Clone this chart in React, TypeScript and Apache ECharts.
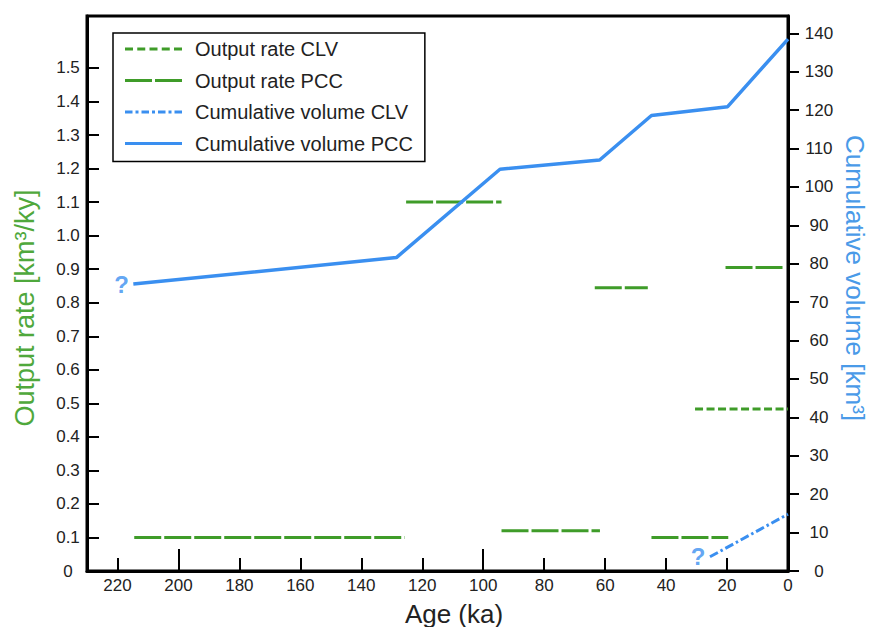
import React, { useEffect, useRef } from 'react';
import * as echarts from 'echarts';

// ---- data ----
const cumPccAge = [214.8, 128.5, 94.5, 61.8, 44.8, 19.8, 0];
const cumPccVol = [74.7, 81.6, 104.6, 107.0, 118.6, 120.9, 138.5];
const cumClvAge = [25.6, 0];
const cumClvVol = [3.7, 14.8];
const ratePccStart = [214.5, 125.3, 94.0, 63.4, 44.8, 20.5];
const ratePccEnd = [125.8, 94.0, 61.7, 46.0, 19.6, 1.7];
const ratePccValue = [0.1, 1.1, 0.12, 0.845, 0.1, 0.905];
const rateClvStart = [30.5];
const rateClvEnd = [0];
const rateClvValue = [0.483];

// ---- tick labels ----
const xTicks = [0, 20, 40, 60, 80, 100, 120, 140, 160, 180, 200, 220];
const xMajorTicks = [0, 100, 200];
const leftTicks = [0, 0.1, 0.2, 0.3, 0.4, 0.5, 0.6, 0.7, 0.8, 0.9, 1.0, 1.1, 1.2, 1.3, 1.4, 1.5];
const rightTicks = [0, 10, 20, 30, 40, 50, 60, 70, 80, 90, 100, 110, 120, 130, 140];
const legendNames = ['Output rate CLV', 'Output rate PCC', 'Cumulative volume CLV', 'Cumulative volume PCC'];

const FONT = '"Liberation Sans", Arial, Helvetica, sans-serif';
const GREEN = '#3f9c29';
const GREEN_T = '#4fa83c';
const BLUE = '#3a8ff0';
const BLUE_T = '#4a9ae8';
const INK = '#222222';

const ICONS: Record<string, string> = {
  'Output rate CLV':
    'path://M0,0H8V3H0Z M12.25,0H20.25V3H12.25Z M24.5,0H32.5V3H24.5Z M36.75,0H44.75V3H36.75Z M49,0H57V3H49Z',
  'Output rate PCC': 'path://M0,0H27V3H0Z M30,0H57V3H30Z',
  'Cumulative volume CLV':
    'path://M0,0H7.5V3H0Z M10.5,0H13.5V3H10.5Z M16.5,0H24V3H16.5Z M27,0H30V3H27Z M33,0H40.5V3H33Z M43.5,0H46.5V3H43.5Z M49.5,0H57V3H49.5Z',
  'Cumulative volume PCC': 'path://M0,0H57V3H0Z',
};

export default function App() {
  const ref = useRef<HTMLDivElement>(null);
  useEffect(() => {
    if (!ref.current) return;
    const chart = echarts.init(ref.current, undefined, { renderer: 'svg' });

    const pccSeries = ratePccStart.map((s, i) => ({
      type: 'line',
      name: 'Output rate PCC',
      xAxisIndex: 0,
      yAxisIndex: 0,
      symbol: 'none',
      silent: true,
      lineStyle: { color: GREEN, width: 3, type: [27, 3], cap: 'butt' },
      itemStyle: { color: GREEN },
      data: [[s, ratePccValue[i]], [ratePccEnd[i], ratePccValue[i]]],
      z: 2,
    }));
    const clvSeries = rateClvStart.map((s, i) => ({
      type: 'line',
      name: 'Output rate CLV',
      xAxisIndex: 0,
      yAxisIndex: 0,
      symbol: 'none',
      silent: true,
      lineStyle: { color: GREEN, width: 3, type: [8, 3.5], cap: 'butt' },
      itemStyle: { color: GREEN },
      data: [[s, rateClvValue[i]], [rateClvEnd[i], rateClvValue[i]]],
      z: 2,
    }));

    const option: any = {
      animation: false,
      textStyle: { fontFamily: FONT },
      grid: {
        left: 87, right: 81, top: 16, bottom: 56,
        show: true, borderColor: '#000', borderWidth: 3,
        backgroundColor: 'transparent',
        containLabel: false,
        outerBoundsMode: 'none',
      },
      legend: {
        data: legendNames.map((n) => ({ name: n, icon: ICONS[n] })),
        orient: 'vertical',
        left: 113,
        top: 33,
        itemWidth: 57,
        itemHeight: 3,
        itemGap: 11.5,
        symbolKeepAspect: false,
        padding: [6, 12, 8, 12],
        borderColor: '#000',
        borderWidth: 1.5,
        backgroundColor: '#fff',
        selectedMode: false,
        itemStyle: { borderWidth: 0 },
        textStyle: { fontSize: 20, color: INK, fontFamily: FONT, padding: [0, 0, 0, 8] },
      },
      xAxis: [
        {
          type: 'value', min: 0, max: 230, inverse: true, position: 'bottom',
          axisLine: { show: true, onZero: false, lineStyle: { color: '#000', width: 3 } },
          axisTick: {
            show: true, inside: true, length: 13, customValues: xTicks,
            lineStyle: { color: '#000', width: 2 },
          },
          axisLabel: {
            fontSize: 17, color: INK, margin: 6, fontFamily: FONT, customValues: xTicks,
            formatter: (v: number) => String(v),
          },
          splitLine: { show: false },
        },
        {
          type: 'value', min: 0, max: 230, inverse: true, position: 'bottom',
          axisLine: { show: false },
          axisTick: {
            show: true, inside: true, length: 22, customValues: xMajorTicks,
            lineStyle: { color: '#000', width: 2 },
          },
          axisLabel: { show: false },
          splitLine: { show: false },
        },
      ],
      yAxis: [
        {
          type: 'value', min: 0, max: 1.655, position: 'left',
          axisLine: { show: true, onZero: false, lineStyle: { color: '#000', width: 3 } },
          axisTick: {
            show: true, inside: true, length: 12, customValues: leftTicks,
            lineStyle: { color: '#000', width: 2 },
          },
          axisLabel: {
            fontSize: 17, color: INK, margin: 19, align: 'center', fontFamily: FONT,
            customValues: leftTicks,
            formatter: (v: number) => (v === 0 ? '0' : v.toFixed(1)),
          },
          splitLine: { show: false },
        },
        {
          type: 'value', min: 0, max: 144.5, position: 'right',
          axisLine: { show: true, onZero: false, lineStyle: { color: '#000', width: 3 } },
          axisTick: {
            show: true, inside: false, length: 11, customValues: rightTicks,
            lineStyle: { color: '#000', width: 2 },
          },
          axisLabel: {
            fontSize: 17, color: INK, margin: 31, align: 'center', fontFamily: FONT,
            customValues: rightTicks,
            formatter: (v: number) => String(v),
          },
          splitLine: { show: false },
        },
      ],
      series: [
        ...clvSeries,
        ...pccSeries,
        {
          type: 'line',
          name: 'Cumulative volume CLV',
          xAxisIndex: 0,
          yAxisIndex: 1,
          symbol: 'none',
          silent: true,
          lineStyle: { color: BLUE, width: 3, type: [9, 3, 2.5, 3], cap: 'butt' },
          itemStyle: { color: BLUE },
          data: cumClvAge.map((a, i) => [a, cumClvVol[i]]),
          z: 3,
        },
        {
          type: 'line',
          name: 'Cumulative volume PCC',
          xAxisIndex: 0,
          yAxisIndex: 1,
          symbol: 'none',
          silent: true,
          lineStyle: { color: BLUE, width: 3.5 },
          itemStyle: { color: BLUE },
          data: cumPccAge.map((a, i) => [a, cumPccVol[i]]),
          z: 4,
        },
        {
          type: 'scatter',
          name: 'unknown start',
          xAxisIndex: 0,
          yAxisIndex: 1,
          symbolSize: 1,
          silent: true,
          itemStyle: { color: 'transparent' },
          label: {
            show: true, formatter: '?', position: 'left', distance: 4,
            fontSize: 24, fontWeight: 'bold', color: BLUE, fontFamily: FONT,
          },
          data: [[cumPccAge[0], cumPccVol[0]], [cumClvAge[0], cumClvVol[0]]],
          z: 5,
        },
      ],
      graphic: [
        {
          type: 'text', x: 454, y: 614, silent: true,
          style: {
            text: 'Age (ka)', fontSize: 26, fontFamily: FONT, fill: INK,
            align: 'center', verticalAlign: 'middle', textAlign: 'center', textVerticalAlign: 'middle',
          },
        },
        {
          type: 'text', x: 25, y: 308, rotation: Math.PI / 2, silent: true,
          style: {
            text: 'Output rate [km³/ky]', fontSize: 27, fontFamily: FONT, fill: GREEN_T,
            align: 'center', verticalAlign: 'middle', textAlign: 'center', textVerticalAlign: 'middle',
          },
        },
        {
          type: 'text', x: 855, y: 278, rotation: -Math.PI / 2, silent: true,
          style: {
            text: 'Cumulative volume [km³]', fontSize: 26, fontFamily: FONT, fill: BLUE_T,
            align: 'center', verticalAlign: 'middle', textAlign: 'center', textVerticalAlign: 'middle',
          },
        },
      ],
    };
    chart.setOption(option);
    return () => chart.dispose();
  }, []);

  return (
    <div
      ref={ref}
      style={{ position: 'fixed', left: 0, top: 0, width: 869, height: 627, background: '#fff' }}
    />
  );
}
